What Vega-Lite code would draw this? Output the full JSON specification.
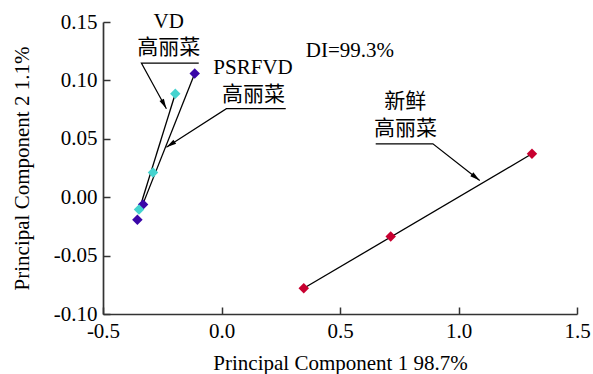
{
  "$schema": "https://vega.github.io/schema/vega-lite/v6.json",
  "width": 474,
  "height": 292,
  "autosize": {"type": "none"},
  "padding": {"left": 103, "top": 22, "right": 16, "bottom": 60},
  "background": "white",
  "config": {
    "view": {"stroke": null},
    "font": "Liberation Serif, Noto Sans CJK SC",
    "axis": {
      "grid": false,
      "domainColor": "#333333",
      "domainWidth": 1.7,
      "tickColor": "#333333",
      "tickWidth": 1.5,
      "labelFlush": false,
      "labelFont": "Liberation Serif",
      "labelFontSize": 21,
      "labelColor": "black",
      "titleFont": "Liberation Serif",
      "titleFontSize": 21,
      "titleFontWeight": "normal",
      "titleColor": "black"
    }
  },
  "datasets": {
    "points": [
      {"pc1": -0.113, "pc2": 0.106, "sample": "PSRFVD"},
      {"pc1": -0.331, "pc2": -0.0063, "sample": "PSRFVD"},
      {"pc1": -0.355, "pc2": -0.0194, "sample": "PSRFVD"},
      {"pc1": -0.195, "pc2": 0.0886, "sample": "VD"},
      {"pc1": -0.289, "pc2": 0.0211, "sample": "VD"},
      {"pc1": -0.348, "pc2": -0.0106, "sample": "VD"},
      {"pc1": 1.310, "pc2": 0.0372, "sample": "新鲜"},
      {"pc1": 0.714, "pc2": -0.0337, "sample": "新鲜"},
      {"pc1": 0.347, "pc2": -0.078, "sample": "新鲜"}
    ],
    "fits": [
      {"line": "VD", "pc1": -0.340, "pc2": -0.006, "o": 1},
      {"line": "VD", "pc1": -0.195, "pc2": 0.0886, "o": 2},
      {"line": "PSRFVD", "pc1": -0.328, "pc2": -0.004, "o": 1},
      {"line": "PSRFVD", "pc1": -0.113, "pc2": 0.106, "o": 2},
      {"line": "新鲜", "pc1": 0.347, "pc2": -0.078, "o": 1},
      {"line": "新鲜", "pc1": 1.310, "pc2": 0.0372, "o": 2}
    ],
    "leaders": [
      {"leader": "VD", "pc1": -0.096, "pc2": 0.1148, "o": 1},
      {"leader": "VD", "pc1": -0.338, "pc2": 0.1148, "o": 2},
      {"leader": "VD", "pc1": -0.2325, "pc2": 0.0758, "o": 3},
      {"leader": "PSRFVD", "pc1": 0.271, "pc2": 0.0758, "o": 1},
      {"leader": "PSRFVD", "pc1": 0.0207, "pc2": 0.0758, "o": 2},
      {"leader": "PSRFVD", "pc1": -0.2325, "pc2": 0.0428, "o": 3},
      {"leader": "新鲜", "pc1": 0.6506, "pc2": 0.0457, "o": 1},
      {"leader": "新鲜", "pc1": 0.892, "pc2": 0.0457, "o": 2},
      {"leader": "新鲜", "pc1": 1.0895, "pc2": 0.0143, "o": 3}
    ],
    "labels": [
      {"pc1": -0.223, "pc2": 0.150, "label": "VD"},
      {"pc1": -0.223, "pc2": 0.1279, "label": "高丽菜"},
      {"pc1": 0.133, "pc2": 0.1107, "label": "PSRFVD"},
      {"pc1": 0.135, "pc2": 0.0872, "label": "高丽菜"},
      {"pc1": 0.542, "pc2": 0.1251, "label": "DI=99.3%"},
      {"pc1": 0.775, "pc2": 0.0814, "label": "新鲜"},
      {"pc1": 0.776, "pc2": 0.0586, "label": "高丽菜"}
    ]
  },
  "layer": [
    {
      "data": {"name": "fits"},
      "mark": {"type": "line", "color": "black", "strokeWidth": 1.3, "clip": false},
      "encoding": {
        "x": {"field": "pc1", "type": "quantitative", "scale": {"domain": [-0.5, 1.5], "nice": false, "zero": false},
              "axis": {"values": [-0.5, 0, 0.5, 1.0, 1.5], "format": ".1f", "labelExpr": "replace(datum.label, '−', '-')", "tickSize": -7, "labelPadding": 13, "title": "Principal Component 1 98.7%", "titleY": 49, "titleBaseline": "middle"}},
        "y": {"field": "pc2", "type": "quantitative", "scale": {"domain": [-0.1, 0.15], "nice": false, "zero": false},
              "axis": {"values": [-0.1, -0.05, 0, 0.05, 0.1, 0.15], "format": ".2f", "labelExpr": "replace(datum.label, '−', '-')", "tickSize": -7, "labelPadding": 13, "title": "Principal Component 2 1.1%", "titleX": -81, "titleBaseline": "middle"}},
        "detail": {"field": "line"},
        "order": {"field": "o"}
      }
    },
    {
      "data": {"name": "leaders"},
      "mark": {"type": "line", "color": "black", "strokeWidth": 1.2, "clip": false},
      "encoding": {
        "x": {"field": "pc1", "type": "quantitative"},
        "y": {"field": "pc2", "type": "quantitative"},
        "detail": {"field": "leader"},
        "order": {"field": "o"}
      }
    },
    {
      "data": {"name": "leaders"},
      "transform": [{"filter": "datum.o == 3 && datum.leader == 'VD'"}],
      "mark": {"type": "point", "shape": "M0,0L-0.25,1L0.25,1Z", "filled": true, "color": "black", "size": 400, "angle": 152, "opacity": 1},
      "encoding": {"x": {"field": "pc1", "type": "quantitative"}, "y": {"field": "pc2", "type": "quantitative"}}
    },
    {
      "data": {"name": "leaders"},
      "transform": [{"filter": "datum.o == 3 && datum.leader == 'PSRFVD'"}],
      "mark": {"type": "point", "shape": "M0,0L-0.25,1L0.25,1Z", "filled": true, "color": "black", "size": 400, "angle": 237, "opacity": 1},
      "encoding": {"x": {"field": "pc1", "type": "quantitative"}, "y": {"field": "pc2", "type": "quantitative"}}
    },
    {
      "data": {"name": "leaders"},
      "transform": [{"filter": "datum.o == 3 && datum.leader == '新鲜'"}],
      "mark": {"type": "point", "shape": "M0,0L-0.25,1L0.25,1Z", "filled": true, "color": "black", "size": 400, "angle": 128, "opacity": 1},
      "encoding": {"x": {"field": "pc1", "type": "quantitative"}, "y": {"field": "pc2", "type": "quantitative"}}
    },
    {
      "data": {"name": "points"},
      "mark": {"type": "point", "shape": "diamond", "filled": true, "size": 110, "opacity": 1},
      "encoding": {
        "x": {"field": "pc1", "type": "quantitative"},
        "y": {"field": "pc2", "type": "quantitative"},
        "color": {"field": "sample", "type": "nominal", "legend": null,
                  "scale": {"domain": ["PSRFVD", "VD", "新鲜"], "range": ["#3a06a8", "#45d3cf", "#c80030"]}}
      }
    },
    {
      "data": {"name": "labels"},
      "mark": {"type": "text", "fontSize": 21, "align": "center", "baseline": "middle", "color": "black", "font": "Liberation Serif, Noto Sans CJK SC"},
      "encoding": {
        "x": {"field": "pc1", "type": "quantitative"},
        "y": {"field": "pc2", "type": "quantitative"},
        "text": {"field": "label"}
      }
    }
  ]
}
